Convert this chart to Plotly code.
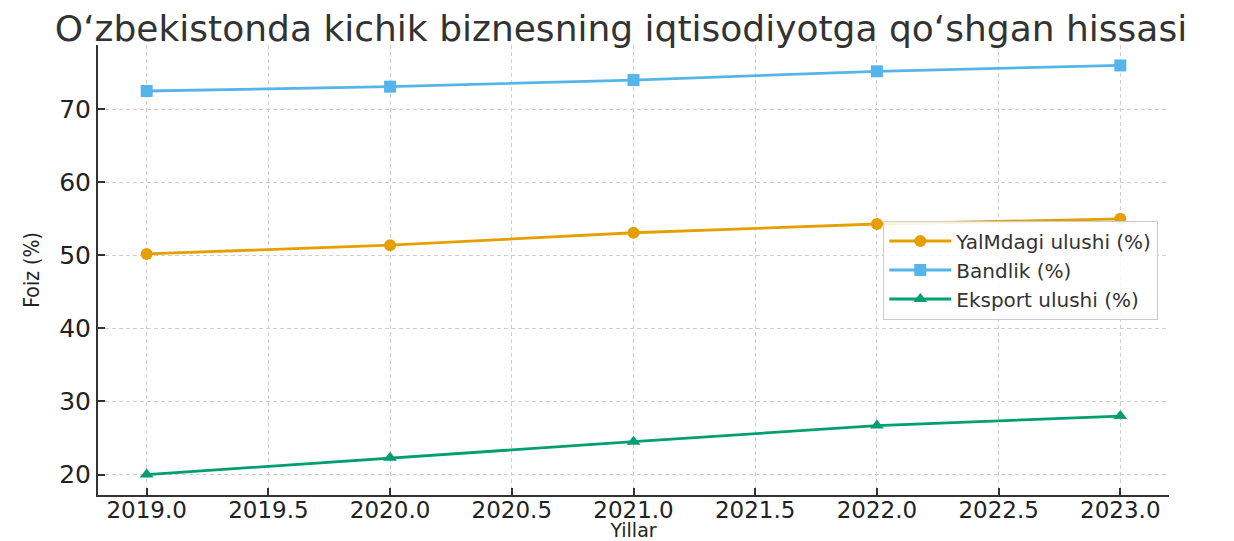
import plotly.graph_objects as go

years = [2019, 2020, 2021, 2022, 2023]
yalm = [50.2, 51.4, 53.1, 54.3, 55.0]
bandlik = [72.5, 73.1, 74.0, 75.2, 76.0]
eksport = [20.0, 22.3, 24.5, 26.7, 28.0]

names = ["YalMdagi ulushi (%)", "Bandlik (%)", "Eksport ulushi (%)"]
colors = ["#E69F00", "#56B4E9", "#009E73"]
symbols = ["circle", "square", "triangle-up"]
series = [yalm, bandlik, eksport]

font = "DejaVu Sans"
fig = go.Figure()
for name, vals, c, s in zip(names, series, colors, symbols):
    fig.add_trace(go.Scatter(
        x=years, y=vals, name=name, mode="lines+markers",
        line=dict(color=c, width=2.8),
        marker=dict(symbol=s, size=12, color=c),
    ))

H = 533
fig.update_layout(
    width=1226, height=H,
    margin=dict(l=90, r=65, t=37, b=H - 487),
    paper_bgcolor="white", plot_bgcolor="white",
    title=dict(text="O‘zbekistonda kichik biznesning iqtisodiyotga qo‘shgan hissasi",
               x=0.5, xanchor="center", y=1 - 20 / H, yanchor="middle",
               font=dict(family=font, size=36, color="#333333")),
    font=dict(family=font, color="#333333"),
    legend=dict(x=0.99, xanchor="right", y=0.5, yanchor="middle",
                bgcolor="rgba(255,255,255,0.85)", bordercolor="#cccccc", borderwidth=1,
                font=dict(family=font, size=20, color="#333333"), itemwidth=62,
                tracegroupgap=0),
    showlegend=True,
)
fig.update_xaxes(
    range=[2018.8, 2023.2], dtick=0.5, tick0=2019, tickformat=".1f",
    showgrid=True, gridcolor="#d0d0d0", griddash="4px,3px", gridwidth=1,
    showline=True, linecolor="#333333", linewidth=2,
    ticks="inside", ticklen=7, tickwidth=1.5, tickcolor="#333333",
    tickfont=dict(family=font, size=23, color="#222222"), ticklabelstandoff=-7,
    title=dict(text="Yillar", font=dict(family=font, size=19, color="#222222"), standoff=8),
    zeroline=False, automargin=False,
)
fig.update_yaxes(
    range=[17.2, 78.8], dtick=10, tick0=0,
    showgrid=True, gridcolor="#d0d0d0", griddash="4px,3px", gridwidth=1,
    showline=True, linecolor="#333333", linewidth=2,
    ticks="inside", ticklen=7, tickwidth=1.5, tickcolor="#333333",
    tickfont=dict(family=font, size=25, color="#222222"),
    title=dict(text="Foiz (%)", font=dict(family="DejaVu Sans Condensed, Liberation Sans Narrow, DejaVu Sans", size=21, color="#222222"), standoff=14),
    zeroline=False, automargin=False,
)
fig.write_html("out.html")
